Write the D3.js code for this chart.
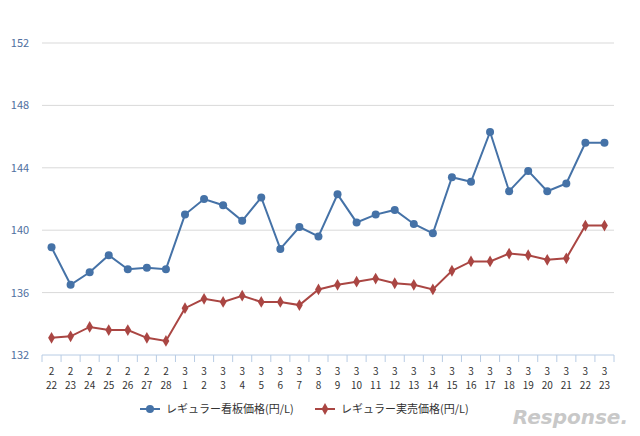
<!DOCTYPE html>
<html><head><meta charset="utf-8">
<script src="https://cdn.jsdelivr.net/npm/d3@7"></script>
<style>body{margin:0;background:#fff}</style></head>
<body><svg id="c" width="640" height="436"></svg>
<script>
const months=[2,2,2,2,2,2,2,3,3,3,3,3,3,3,3,3,3,3,3,3,3,3,3,3,3,3,3,3,3,3];
const days=[22,23,24,25,26,27,28,1,2,3,4,5,6,7,8,9,10,11,12,13,14,15,16,17,18,19,20,21,22,23];
const signPrice=[138.9,136.5,137.3,138.4,137.5,137.6,137.5,141.0,142.0,141.6,140.6,142.1,138.8,140.2,139.6,142.3,140.5,141.0,141.3,140.4,139.8,143.4,143.1,146.3,142.5,143.8,142.5,143.0,145.6,145.6];
const realPrice=[133.1,133.2,133.8,133.6,133.6,133.1,132.9,135.0,135.6,135.4,135.8,135.4,135.4,135.2,136.2,136.5,136.7,136.9,136.6,136.5,136.2,137.4,138.0,138.0,138.5,138.4,138.1,138.2,140.3,140.3];
const yTicks=[132,136,140,144,148,152];
const names=["レギュラー看板価格(円/L)","レギュラー実売価格(円/L)"];
const svg=d3.select("#c"),font="Noto Sans CJK JP, sans-serif";
const idx=d3.range(days.length);
const x=d3.scaleBand().domain(idx).range([42,614]);
const y=d3.scaleLinear().domain([132,152]).range([355,43]);
svg.append("g").selectAll("line").data(yTicks.slice(1)).join("line")
 .attr("x1",42).attr("x2",614).attr("y1",d=>y(d)).attr("y2",d=>y(d)).attr("stroke","#d9d9d9");
svg.append("g").selectAll("text").data(yTicks).join("text").attr("x",20).attr("y",d=>y(d)+4)
 .attr("text-anchor","middle").attr("font-size",11).attr("font-family",font).attr("fill","#4f6fa0").text(d=>d);
svg.append("line").attr("x1",42).attr("x2",614).attr("y1",355).attr("y2",355).attr("stroke","#b8cce4");
svg.append("g").selectAll("line").data(idx.concat([idx.length])).join("line")
 .attr("x1",d=>42+d*x.step()).attr("x2",d=>42+d*x.step()).attr("y1",355).attr("y2",362).attr("stroke","#b8cce4");
const xl=svg.append("g").selectAll("text").data(idx).join("text").attr("text-anchor","middle")
 .attr("font-size",10).attr("font-family",font).attr("fill","#333");
xl.append("tspan").attr("x",i=>x(i)+x.bandwidth()/2).attr("y",375).text(i=>months[i]);
xl.append("tspan").attr("x",i=>x(i)+x.bandwidth()/2).attr("y",389).text(i=>days[i]);
const cx=i=>x(i)+x.bandwidth()/2;
const line=d3.line().x((d,i)=>cx(i)).y(d=>y(d));
svg.append("path").datum(signPrice).attr("d",line).attr("fill","none").attr("stroke","#4572a7").attr("stroke-width",2);
svg.append("path").datum(realPrice).attr("d",line).attr("fill","none").attr("stroke","#aa4643").attr("stroke-width",2);
svg.append("g").selectAll("circle").data(signPrice).join("circle").attr("cx",(d,i)=>cx(i)).attr("cy",d=>y(d)).attr("r",4).attr("fill","#4572a7");
const dia=d3.symbol().type(d3.symbolDiamond).size(40);
svg.append("g").selectAll("path").data(realPrice).join("path").attr("d",dia)
 .attr("transform",(d,i)=>`translate(${cx(i)},${y(d)})`).attr("fill","#aa4643");
// legend
const lg=[[140,"#4572a7","c"],[315,"#aa4643","d"]];
lg.forEach(([lx,col,t],k)=>{
 svg.append("line").attr("x1",lx).attr("x2",lx+20).attr("y1",409).attr("y2",409).attr("stroke",col).attr("stroke-width",2);
 if(t=="c")svg.append("circle").attr("cx",lx+10).attr("cy",409).attr("r",4).attr("fill",col);
 else svg.append("path").attr("d",dia).attr("transform",`translate(${lx+10},409)`).attr("fill",col);
 svg.append("text").attr("x",lx+26).attr("y",413).attr("font-size",11).attr("font-family",font).attr("fill","#333").text(names[k]);
});
svg.append("text").attr("x",628).attr("y",424).attr("text-anchor","end").attr("font-size",20).attr("font-style","italic")
 .attr("font-family","DejaVu Sans, sans-serif").attr("fill","#c8c8c8").attr("font-weight","bold").text("Response.");
</script></body></html>
